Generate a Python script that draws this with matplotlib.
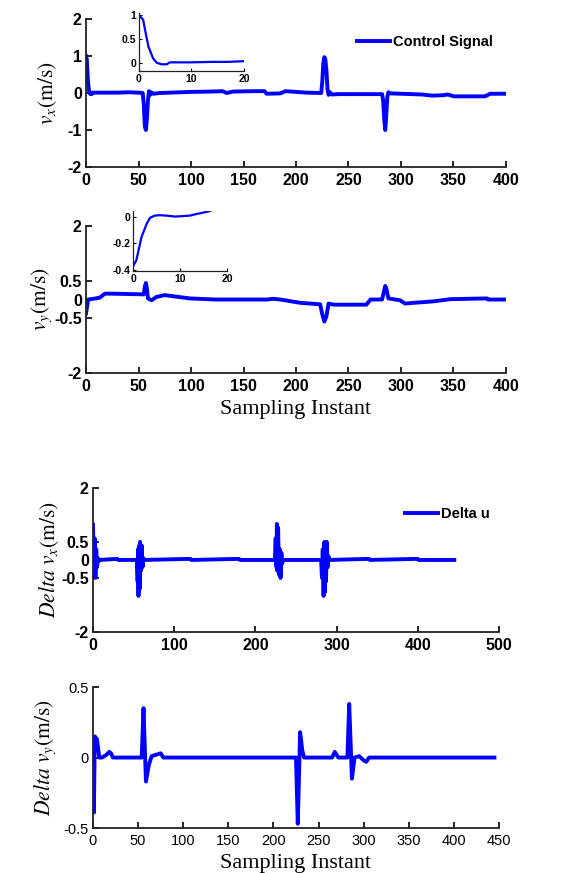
import matplotlib
matplotlib.use("Agg")
import matplotlib.pyplot as plt

plt.rcParams["font.family"] = ["Liberation Sans", "DejaVu Sans"]
plt.rcParams["mathtext.fontset"] = "stix"
plt.rcParams["axes.unicode_minus"] = False

# v_x control signal
vx_t = [0, 0.8, 1.1, 1.8, 2.7, 3.4, 4.3, 5.3, 6, 10, 20, 30, 40, 50, 54, 55, 56, 57, 58, 59, 60, 61,
        62, 64, 70, 90, 100, 120, 130, 134, 140, 160, 170, 172, 185, 190, 195, 200, 210, 224, 225,
        226, 227, 228, 229, 230, 231, 232, 234, 240, 260, 282, 283, 284, 285, 286, 287, 288, 290,
        300, 320, 330, 340, 345, 350, 370, 380, 385, 400]
vx_v = [1.0, 0.9, 0.72, 0.34, 0.09, 0.0, -0.03, -0.03, 0.01, 0.01, 0.01, 0.01, 0.02, 0.01, 0.0, -0.3,
        -0.9, -1.0, -0.7, -0.2, 0.05, -0.05, 0.02, -0.02, 0.0, 0.02, 0.03, 0.04, 0.05, 0.0, 0.04,
        0.05, 0.05, -0.02, -0.01, 0.05, 0.04, 0.03, 0.01, 0.0, 0.3, 0.8, 0.97, 0.9, 0.6, 0.1, -0.05,
        0.03, -0.04, -0.03, -0.03, -0.03, -0.2, -0.7, -1.0, -0.6, -0.1, 0.02, -0.01, -0.02, -0.04,
        -0.07, -0.06, -0.04, -0.09, -0.09, -0.09, -0.02, -0.02]
vx_in_t = [0, 0.8, 1.1, 1.8, 2.7, 3.4, 4.3, 5.3, 5.9, 8, 10, 14, 17, 20]
vx_in_v = [1.0, 0.9, 0.72, 0.34, 0.09, 0.0, -0.03, -0.03, 0.01, 0.01, 0.01, 0.02, 0.02, 0.035]

# v_y control signal
vy_t = [0, 2, 7, 13, 18, 23, 40, 55, 56, 57, 58, 59, 62.5, 67, 75, 80, 99, 124, 172, 178, 185, 204,
        223, 225, 227, 229, 231, 236, 267, 271, 282, 284, 285, 286, 288, 299, 304, 312, 331, 347,
        382, 383, 400]
vy_v = [-0.38, 0.0, 0.02, 0.05, 0.16, 0.16, 0.15, 0.14, 0.35, 0.45, 0.3, 0.03, -0.02, 0.07, 0.12,
        0.1, 0.03, 0.0, 0.0, 0.02, 0.0, -0.09, -0.13, -0.4, -0.6, -0.45, -0.11, -0.14, -0.14, 0.0,
        0.0, 0.25, 0.37, 0.3, 0.03, -0.02, -0.11, -0.09, -0.05, 0.01, 0.03, 0.0, 0.0]
vy_in_t = [0, 0.7, 1.8, 2.9, 3.6, 4.6, 5.7, 7.1, 8.9, 10, 12.1, 13.6, 15, 16.4]
vy_in_v = [-0.375, -0.33, -0.155, -0.055, -0.01, 0.007, 0.01, 0.007, 0.0, 0.002, 0.007, 0.02, 0.03,
           0.042]

# Delta u, x
dx_t = [0, 1, 2, 3, 4, 5, 6, 7, 8, 30, 31, 54, 55, 55.5, 56, 57, 57.5, 58, 59, 60, 61, 62, 63, 120,
        121, 180, 181, 224, 225, 226, 226.5, 227, 228, 229, 230, 231, 232, 233, 234, 281, 282, 283,
        284, 285, 285.5, 286, 287, 288, 289, 290, 291, 340, 341, 400, 401, 445]
dx_v = [0.98, -0.3, 0.6, -0.5, 0.3, -0.2, 0.05, -0.03, 0.0, 0.03, 0.0, 0.0, -0.6, 0.3, -1.0, 0.4,
        -0.8, 0.5, -0.3, 0.4, -0.2, 0.05, 0.0, 0.03, 0.0, 0.03, 0.0, 0.0, 0.6, -0.2, 1.0, -0.3, 0.9,
        -0.4, 0.3, -0.5, 0.2, -0.1, 0.0, 0.0, -0.5, 0.3, -1.0, 0.5, -0.9, 0.4, -0.6, 0.5, -0.2, 0.1,
        0.0, 0.03, 0.0, 0.03, 0.0, 0.0]

# Delta u, y
dy_t = [0, 1, 2, 4.4, 5, 6, 7, 10, 15, 18, 20, 22, 54, 56, 58.7, 62, 65, 75, 78, 225, 227, 229.6,
        232, 234, 265, 268, 270, 272, 282, 284, 287, 290, 295, 300, 303, 306, 445]
dy_v = [0.0, -0.39, 0.15, 0.13, 0.1, 0.05, 0.0, 0.0, 0.02, 0.04, 0.03, 0.0, 0.0, 0.35, -0.17, -0.05,
        0.01, 0.03, 0.0, 0.0, -0.47, 0.18, 0.05, 0.0, 0.0, 0.04, 0.02, 0.0, 0.0, 0.38, -0.15, 0.0,
        0.01, -0.02, -0.03, 0.0, 0.0]

blue = "#0000ff"
lw = 2.8


def style(ax, size=11.5, weight="bold"):
    for s in ["top", "right"]:
        ax.spines[s].set_visible(False)
    for s in ["left", "bottom"]:
        ax.spines[s].set_linewidth(1.3)
        ax.spines[s].set_color("#222222")
    ax.tick_params(direction="in", length=4, width=1.2, labelsize=size, pad=3)
    ax.tick_params(axis="x", pad=4.5)
    for lab in ax.get_xticklabels() + ax.get_yticklabels():
        lab.set_fontweight(weight)


def inset_style(ax):
    style(ax, size=7.5)
    ax.tick_params(length=2, width=0.8, pad=2)
    for s in ["left", "bottom"]:
        ax.spines[s].set_linewidth(0.9)


fig = plt.figure(figsize=(5.67, 8.73), dpi=100)

# panel 1
ax1 = fig.add_axes([0.1517, 0.8087, 0.7407, 0.1695])
ax1.plot(vx_t, vx_v, color=blue, lw=lw, label="Control Signal")
ax1.set_xlim(0, 400)
ax1.set_ylim(-2, 2)
ax1.set_xticks(range(0, 401, 50))
ax1.set_yticks([-2, -1, 0, 1, 2])
ax1.set_yticklabels(["-2", "-1", "0", "1", "2"])
style(ax1)
ax1.set_ylabel(r"$v_x\mathrm{(m/s)}$", fontsize=15.5, labelpad=6)
ax1.legend(loc="upper right", bbox_to_anchor=(1.0, 0.98), frameon=False, handlelength=2.3,
           handletextpad=0.2, prop={"weight": "bold", "size": 10.5})

ins1 = fig.add_axes([0.2451, 0.9187, 0.1852, 0.0669])
ins1.plot(vx_in_t, vx_in_v, color=blue, lw=1.6)
ins1.set_xlim(0, 20)
ins1.set_ylim(-0.17, 1.05)
ins1.set_xticks([0, 10, 20])
ins1.set_yticks([0, 0.5, 1])
ins1.set_yticklabels(["0", "0.5", "1"])
inset_style(ins1)

# panel 2
ax2 = fig.add_axes([0.1517, 0.5727, 0.7407, 0.1684])
ax2.plot(vy_t, vy_v, color=blue, lw=lw)
ax2.set_xlim(0, 400)
ax2.set_ylim(-2, 2)
ax2.set_xticks(range(0, 401, 50))
ax2.set_yticks([-2, -0.5, 0, 0.5, 2])
ax2.set_yticklabels(["-2", "-0.5", "0", "0.5", "2"])
style(ax2)
ax2.set_ylabel(r"$v_y\mathrm{(m/s)}$", fontsize=15.5, labelpad=0)
ax2.set_xlabel("Sampling Instant", fontsize=16, family="Liberation Serif", labelpad=4)

ins2 = fig.add_axes([0.2346, 0.6896, 0.1658, 0.0692])
ins2.plot(vy_in_t, vy_in_v, color=blue, lw=1.6)
ins2.set_xlim(0, 20)
ins2.set_ylim(-0.41, 0.045)
ins2.set_xticks([0, 10, 20])
ins2.set_yticks([-0.4, -0.2, 0])
ins2.set_yticklabels(["-0.4", "-0.2", "0"])
inset_style(ins2)

# panel 3
ax3 = fig.add_axes([0.164, 0.2761, 0.716, 0.165])
ax3.plot(dx_t, dx_v, color=blue, lw=lw, label="Delta u")
ax3.set_xlim(0, 500)
ax3.set_ylim(-2, 2)
ax3.set_xticks(range(0, 501, 100))
ax3.set_yticks([-2, -0.5, 0, 0.5, 2])
ax3.set_yticklabels(["-2", "-0.5", "0", "0.5", "2"])
style(ax3)
ax3.set_ylabel(r"$Delta\ v_x\mathrm{(m/s)}$", fontsize=15.5, labelpad=0)
ax3.legend(loc="upper right", bbox_to_anchor=(1.01, 0.96), frameon=False, handlelength=2.3,
           handletextpad=0.2, prop={"weight": "bold", "size": 10.5})

# panel 4
ax4 = fig.add_axes([0.164, 0.0515, 0.716, 0.1615])
ax4.plot(dy_t, dy_v, color=blue, lw=lw)
ax4.set_xlim(0, 450)
ax4.set_ylim(-0.5, 0.5)
ax4.set_xticks(range(0, 451, 50))
ax4.set_yticks([-0.5, 0, 0.5])
ax4.set_yticklabels(["-0.5", "0", "0.5"])
style(ax4, size=10.5, weight="normal")
ax4.set_ylabel(r"$Delta\ v_y\mathrm{(m/s)}$", fontsize=15.5, labelpad=4)
ax4.set_xlabel("Sampling Instant", fontsize=16, family="Liberation Serif", labelpad=4)

fig.savefig("out.png", dpi=100)
